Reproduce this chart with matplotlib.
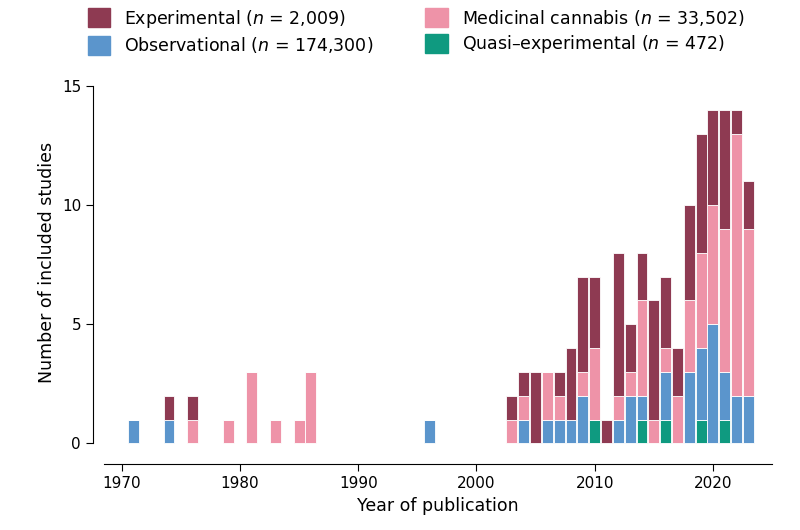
import matplotlib
matplotlib.use("Agg")
import matplotlib.pyplot as plt
import numpy as np

years = [1971,1974,1976,1979,1981,1983,1985,1986,1996] + list(range(2003,2024))
quasi = [0,0,0,0,0,0,0,0,0, 0,0,0,0,0,0,0,1,0,0,0,1,0,1,0,0,1,0,1,0,0]
obs   = [1,1,0,0,0,0,0,0,1, 0,1,0,1,1,1,2,0,0,1,2,1,0,2,0,3,3,5,2,2,2]
med   = [0,0,1,1,3,1,1,3,0, 1,1,0,2,1,0,1,3,0,1,1,4,1,1,2,3,4,5,6,11,7]
exp_  = [0,1,1,0,0,0,0,0,0, 1,1,3,0,1,3,4,3,1,6,2,2,5,3,2,4,5,4,5,1,2]

c_exp, c_med, c_obs, c_q = "#8e3a52", "#ee93a8", "#5b95cc", "#0f9a80"

fig = plt.figure(figsize=(8, 5.3), dpi=100)
ax = fig.add_axes([0.13, 0.15, 0.835, 0.71])
x = np.array(years)
q = np.array(quasi); o = np.array(obs); m = np.array(med); e = np.array(exp_)
kw = dict(width=0.92, edgecolor="white", linewidth=0.6)
ax.bar(x, q, color=c_q, **kw)
ax.bar(x, o, bottom=q, color=c_obs, **kw)
ax.bar(x, m, bottom=q+o, color=c_med, **kw)
ax.bar(x, e, bottom=q+o+m, color=c_exp, **kw)

ax.set_xlim(1968.5, 2025)
ax.set_ylim(-0.3, 15.5)
ax.set_yticks([0,5,10,15])
ax.set_xticks([1970,1980,1990,2000,2010,2020])
for s in ["top","right"]:
    ax.spines[s].set_visible(False)
ax.spines["left"].set_bounds(0,15)
ax.spines["bottom"].set_position(("outward", 10))
ax.spines["left"].set_position(("outward", 8))
ax.tick_params(labelsize=11, length=5)
ax.set_xlabel("Year of publication", fontsize=12.5)
ax.set_ylabel("Number of included studies", fontsize=12.5)

from matplotlib.patches import Patch
handles = [Patch(color=c_exp), Patch(color=c_obs), Patch(color=c_med), Patch(color=c_q)]
labels = [r"Experimental ($n$ = 2,009)", r"Observational ($n$ = 174,300)",
          r"Medicinal cannabis ($n$ = 33,502)", r"Quasi–experimental ($n$ = 472)"]
fig.legend(handles, labels, ncol=2, loc="upper left", bbox_to_anchor=(0.09, 1.015),
           frameon=False, fontsize=12.5, handlelength=1.3, handleheight=1.3,
           columnspacing=3.0, labelspacing=0.3)
fig.savefig("out.png", dpi=100)
